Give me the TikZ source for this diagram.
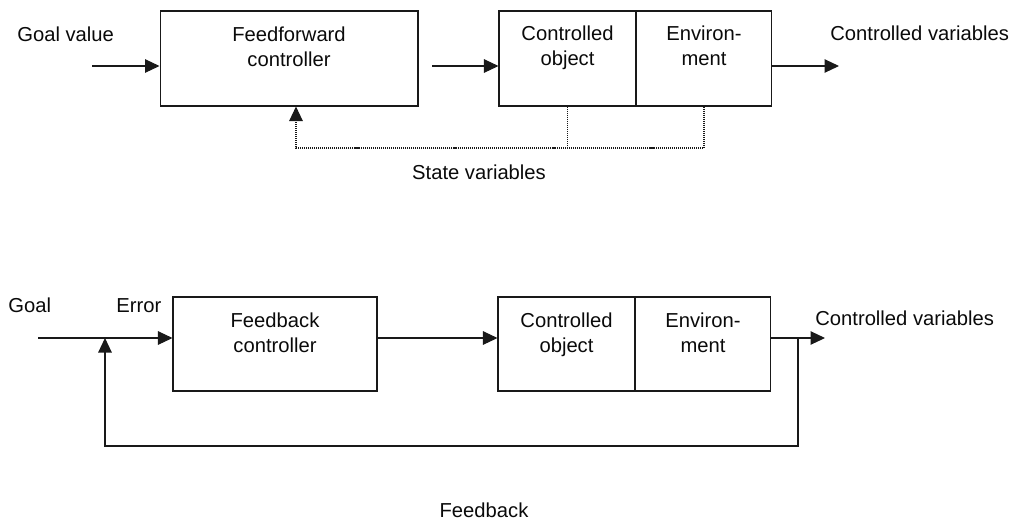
\documentclass[tikz,border=0pt]{standalone}
\usepackage{fontspec}
\setmainfont{Liberation Sans}
\usepackage{tikz}
\usetikzlibrary{arrows.meta,positioning}
\definecolor{lineColor}{RGB}{25, 25, 25}
\definecolor{textColor}{RGB}{10, 10, 10}

\begin{document}
\begin{tikzpicture}[x=0.02cm, y=-0.02cm,
    block/.style={draw=lineColor, line width=0.6pt, inner sep=0pt, minimum height=1.9cm},
    txt/.style={inner sep=0pt, align=center, text=textColor, font=\fontsize{11.5}{14.2}\selectfont},
    flow/.style={draw=lineColor, line width=0.6pt, -{Triangle[length=0.29cm, width=0.27cm]}},
    link/.style={draw=lineColor, line width=0.6pt},
    stateLink/.style={link, line width=0.65pt, dash pattern=on 0.6pt off 0.55pt}]
    \useasboundingbox (0,0) rectangle (1018,522);

    % Feedforward loop: boxes
    \node[block, minimum width=5.16cm] (ffCtrl) at (289,58.5) {};
    \node[block, minimum width=2.74cm] (ffObj) at (567.5,58.5) {};
    \node[block, minimum width=2.72cm, right=-0.6pt of ffObj] (ffEnv) {};

    % Feedforward loop: box texts
    \node[txt, anchor=north] (ffCtrlTxt) at (ffCtrl.center |- 0,26.5) {Feedforward\\controller};
    \node[txt, anchor=north] (ffObjTxt) at (ffObj.center |- 0,25.5) {Controlled\\object};
    \node[txt, anchor=north] (ffEnvTxt) at (ffEnv.center |- 0,25.5) {Environ-\\ment};

    % Feedforward loop: signals
    \node[txt, anchor=base west] (goalVal) at (17,41) {Goal value};
    \coordinate (ffIn) at (92,66);
    \coordinate (ffMid) at (432,66);
    \coordinate (ffOut) at (839,66);
    \draw[flow] (ffIn) -- (ffIn -| ffCtrl.west);
    \draw[flow] (ffMid) -- (ffMid -| ffObj.west);
    \draw[flow] (ffOut -| ffEnv.east) -- (ffOut);
    \node[txt, anchor=base west] (ffCtrlVars) at (830,40) {Controlled variables};

    % State variables fed back (dotted)
    \coordinate (stateTap) at (296,148);
    \draw[stateLink] (ffObj.south) -- (ffObj.south |- stateTap);
    \draw[stateLink, -{Triangle[length=0.29cm, width=0.27cm]}] (ffEnv.south) |- (stateTap) -- (stateTap |- ffCtrl.south);
    \node[txt, anchor=base] (stateVars) at (479,179) {State variables};

    % Feedback loop: boxes
    \node[block, minimum width=4.08cm, minimum height=1.88cm] (fbCtrl) at (275,344) {};
    \node[block, minimum width=2.74cm, minimum height=1.88cm] (fbObj) at (566.5,344) {};
    \node[block, minimum width=2.72cm, minimum height=1.88cm, right=-0.6pt of fbObj] (fbEnv) {};

    % Feedback loop: box texts
    \node[txt, anchor=north] (fbCtrlTxt) at (fbCtrl.center |- 0,312.5) {Feedback\\controller};
    \node[txt, anchor=north] (fbObjTxt) at (fbObj.center |- 0,312.5) {Controlled\\object};
    \node[txt, anchor=north] (fbEnvTxt) at (fbEnv.center |- 0,312.5) {Environ-\\ment};

    % Feedback loop: signals
    \node[txt, anchor=base west] (goal) at (8,312) {Goal};
    \node[txt, anchor=base west] (error) at (116,312) {Error};
    \coordinate (fbIn) at (38,338);
    \coordinate (errSum) at (105,338);
    \coordinate (fbTap) at (798,338);
    \coordinate (fbOut) at (825,338);
    \coordinate (fbLoop) at (798,446);
    \draw[flow] (fbIn) -- (fbIn -| fbCtrl.west);
    \draw[flow] (fbCtrl.east |- fbIn) -- (fbIn -| fbObj.west);
    \draw[flow] (fbOut -| fbEnv.east) -- (fbOut);
    \draw[flow] (fbTap) -- (fbLoop) -| (errSum);
    \node[txt, anchor=base west] (fbCtrlVars) at (815,325) {Controlled variables};
    \node[txt, anchor=base] (feedback) at (484,517) {Feedback};
\end{tikzpicture}
\end{document}
